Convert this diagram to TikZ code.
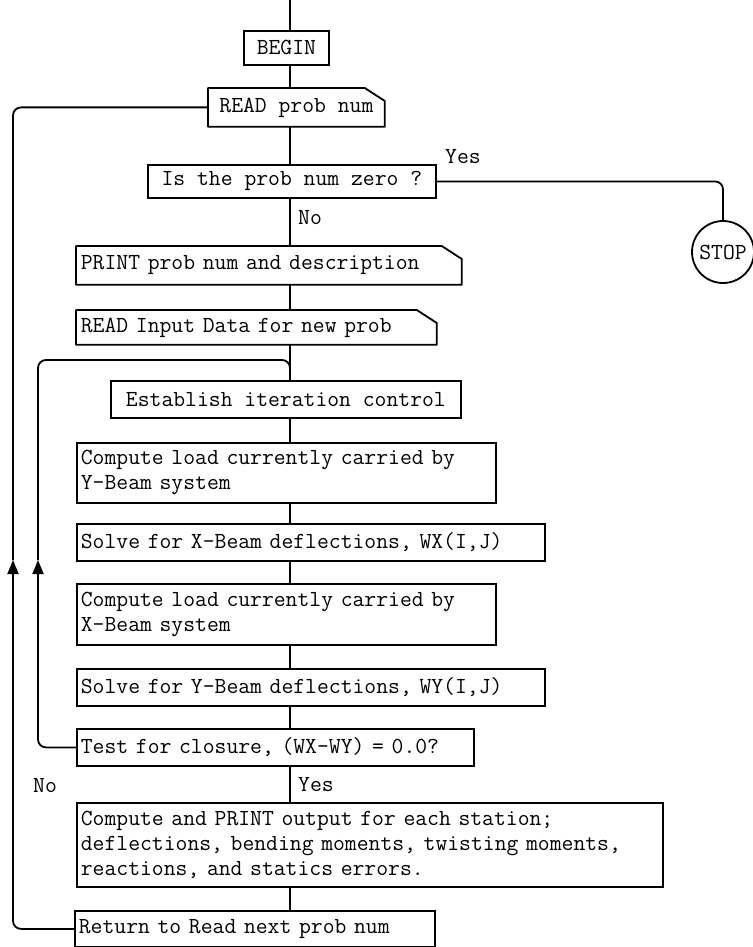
\documentclass[tikz,border=0pt]{standalone}
\usepackage{fontspec}
\usetikzlibrary{arrows.meta, calc}
\newcommand{\chartfont}{\fontsize{23}{25}\selectfont\ttfamily\addfontfeature{FakeBold=2}}
\newcommand{\cardoutline}[1]{\draw[line width=1.8pt, line join=round] (#1.south west) -- (#1.north west) -- ([xshift=-20pt]#1.north east) -- ([yshift=-13pt]#1.north east) -- (#1.south east) -- cycle;}
\tikzset{
  flow/.style={line width=1.8pt, rounded corners=8pt},
  stepbox/.style={draw, line width=1.8pt, anchor=north west, inner xsep=4pt, inner ysep=6pt, align=left, font=\chartfont},
  cardbox/.style={stepbox, draw=none},
  tag/.style={anchor=west, inner sep=0pt, font=\chartfont},
  tip/.style={-{Triangle[length=14pt, width=11pt]}}
}

\begin{document}
\begin{tikzpicture}[x=1pt, y=-1pt]
  \useasboundingbox (0,0) rectangle (752,947);
  \coordinate (spine) at (290,0);

  % Steps
  \node[stepbox, minimum width=85pt, minimum height=34pt] (begin) at (243,30) {BEGIN};
  \node[cardbox, minimum width=175pt, minimum height=37pt] (readnum) at (208,88) {READ prob num};
  \cardoutline{readnum}
  \node[stepbox, minimum width=288pt, minimum height=33pt] (iszero) at (147,164) {Is the prob num zero ?};
  \node[cardbox, text width=376pt, minimum height=37pt] (printdesc) at (76,246) {PRINT prob num and description};
  \cardoutline{printdesc}
  \node[cardbox, text width=351pt, minimum height=33pt] (readdata) at (76,310) {READ Input Data for new prob};
  \cardoutline{readdata}
  \node[stepbox, minimum width=350pt, minimum height=37pt] (establish) at (110,380) {Establish iteration control};
  \node[stepbox, text width=411pt, minimum height=60pt] (loady) at (76,442) {Compute load currently carried by\\Y-Beam system};
  \node[stepbox, text width=460pt, minimum height=37pt] (solvex) at (76,523) {Solve for X-Beam deflections, WX(I,J)};
  \node[stepbox, text width=411pt, minimum height=61pt] (loadx) at (76,583) {Compute load currently carried by\\X-Beam system};
  \node[stepbox, text width=460pt, minimum height=37pt] (solvey) at (76,668) {Solve for Y-Beam deflections, WY(I,J)};
  \node[stepbox, text width=389pt, minimum height=37pt] (closure) at (76,728) {\mbox{Test for closure, (WX-WY) = 0.0?}};
  \node[stepbox, text width=578pt, minimum height=84pt] (output) at (76,802) {Compute and PRINT output for each station;\\deflections, bending moments, twisting moments,\\reactions, and statics errors.};
  \node[stepbox, text width=352pt, minimum height=36pt] (return) at (74,910) {Return to Read next prob num};
  \node[draw, line width=1.8pt, circle, minimum size=62pt, inner sep=0pt, font=\chartfont] (stop) at (723,252) {STOP};

  % Main line
  \draw[flow] (spine) -- (begin.north -| spine);
  \foreach \a/\b in {begin/readnum, readnum/iszero, iszero/printdesc, printdesc/readdata, readdata/establish, establish/loady, loady/solvex, solvex/loadx, loadx/solvey, solvey/closure, closure/output, output/return}
    \draw[flow] (\a.south -| spine) -- (\b.north -| spine);
  \draw[flow] (iszero.east) -| (stop.north);

  % Loops back
  \coordinate (outertip) at (13,560);
  \coordinate (innertip) at (38,560);
  \coordinate (join) at (290,360);
  \draw[flow, tip] (return.west) -| (outertip);
  \draw[flow] (outertip) |- (readnum.west);
  \draw[flow, tip] (closure.west) -| (innertip);
  \draw[flow] (innertip) |- (join) -- (establish.north -| join);

  % Branch labels
  \node[tag] (yeszero) at (445,157) {Yes};
  \node[tag] (nozero) at (298,218) {No};
  \node[tag] (noclose) at (33,786) {No};
  \node[tag] (yesclose) at (298,785) {Yes};
\end{tikzpicture}
\end{document}
